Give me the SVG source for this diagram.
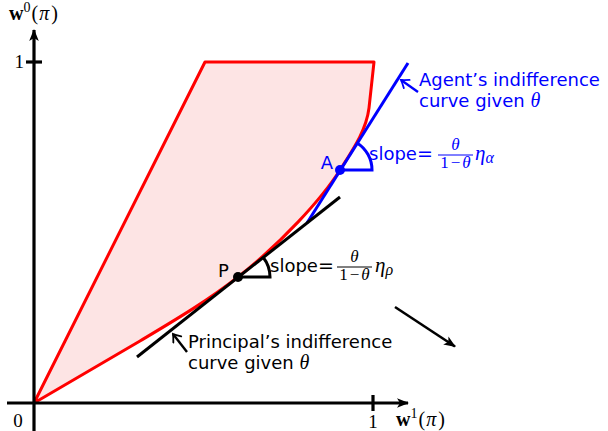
<svg xmlns="http://www.w3.org/2000/svg" width="608" height="431" viewBox="0 0 608 431">
<defs>
<style>
.ax{stroke:#000;stroke-width:3.2;fill:none}
.red{stroke:#ff0000;stroke-width:3;fill:#fde4e4;stroke-linejoin:round}
.bl{stroke:#0000ff;stroke-width:3;fill:none}
.bk{stroke:#000;stroke-width:3;fill:none}
.sans{font-family:"DejaVu Sans",Verdana,sans-serif;font-size:18px}
.math{font-family:"Liberation Serif","DejaVu Serif",serif}
.it{font-style:italic}
.eq{font-family:"DejaVu Sans",sans-serif;font-size:19px}
</style>
<marker id="stealth" markerUnits="userSpaceOnUse" markerWidth="16" markerHeight="12" viewBox="-12 -6 14 12" refX="0" refY="0" orient="auto">
<path d="M1,0 L-11,-4.8 L-8,0 L-11,4.8 Z" fill="#000"/>
</marker>
<marker id="openK" markerUnits="userSpaceOnUse" markerWidth="12" markerHeight="12" viewBox="-9 -6 11 12" refX="0" refY="0" orient="auto">
<path d="M-7,-5 Q-2.5,-1.5 0,0 Q-2.5,1.5 -7,5" fill="none" stroke="#000" stroke-width="1.8" stroke-linecap="round"/>
</marker>
<marker id="openB" markerUnits="userSpaceOnUse" markerWidth="12" markerHeight="12" viewBox="-9 -6 11 12" refX="0" refY="0" orient="auto">
<path d="M-7,-5 Q-2.5,-1.5 0,0 Q-2.5,1.5 -7,5" fill="none" stroke="#0000ff" stroke-width="1.8" stroke-linecap="round"/>
</marker>
</defs>

<g id="region">
<path class="red" d="M34,403 L140,341 C173.4,321 207.4,301.1 238,277 C281.2,243 321.3,199.6 340,170 C352.3,150.5 366.2,130.8 369,108 L374,62 L205,62 Z"/>
</g>

<g id="axes">
<line class="ax" x1="34" y1="431" x2="34" y2="30" marker-end="url(#stealth)"/>
<line class="ax" x1="7" y1="403" x2="408" y2="403" marker-end="url(#stealth)"/>
<line class="ax" x1="26" y1="62" x2="42" y2="62" stroke-width="2"/>
<line class="ax" x1="373" y1="395" x2="373" y2="411" stroke-width="2"/>
<text class="math" x="9" y="20" font-size="20"><tspan font-weight="bold">w</tspan><tspan font-size="14" dy="-8">0</tspan><tspan dy="8" dx="1">(</tspan><tspan class="it" dx="1">π</tspan><tspan dx="2">)</tspan></text>
<text class="math" x="396" y="426" font-size="20"><tspan font-weight="bold">w</tspan><tspan font-size="14" dy="-8">1</tspan><tspan dy="8" dx="1">(</tspan><tspan class="it" dx="1">π</tspan><tspan dx="2">)</tspan></text>
<text class="math" x="24" y="68" font-size="19" text-anchor="end">1</text>
<text class="math" x="18" y="427" font-size="19" text-anchor="middle">0</text>
<text class="math" x="373" y="428" font-size="19" text-anchor="middle">1</text>
</g>

<g id="connectors">
<line class="bl" x1="307" y1="223" x2="408" y2="63"/>
<line class="bk" x1="137" y1="357" x2="340" y2="197"/>
<path class="bl" d="M340,170 L372,170 A32,32 0 0 0 357.1,142.9"/>
<path class="bk" d="M238,277 L270,277 A32,32 0 0 0 263.1,257.2"/>
<line x1="418" y1="92" x2="401" y2="80" stroke="#0000ff" stroke-width="2.4" marker-end="url(#openB)"/>
<line x1="187" y1="352" x2="173" y2="334" stroke="#000" stroke-width="2.4" marker-end="url(#openK)"/>
<line x1="395" y1="307" x2="455" y2="346.5" stroke="#000" stroke-width="2.6" marker-end="url(#stealth)"/>
</g>

<g id="pointA">
<circle cx="340" cy="170" r="5" fill="#0000ff"/>
<text class="sans" x="333" y="169" text-anchor="end" fill="#0000ff">A</text>
<text class="sans" x="369" y="160" fill="#0000ff">slope<tspan class="eq">=</tspan></text>
<text class="math it" x="455.5" y="150" font-size="17" text-anchor="middle" fill="#0000ff">θ</text>
<line x1="438" y1="155" x2="473" y2="155" stroke="#0000ff" stroke-width="1"/>
<text class="math" x="455.5" y="168" font-size="17" text-anchor="middle" fill="#0000ff">1<tspan dx="2">−</tspan><tspan class="it" dx="2">θ</tspan></text>
<text class="math it" x="475" y="160" font-size="21" fill="#0000ff">η<tspan font-size="16" dy="3">α</tspan></text>
</g>

<g id="pointP">
<circle cx="238" cy="277" r="5" fill="#000"/>
<text class="sans" x="218" y="277" fill="#000">P</text>
<text class="sans" x="270" y="272" fill="#000">slope<tspan class="eq">=</tspan></text>
<text class="math it" x="354.5" y="262" font-size="17" text-anchor="middle" fill="#000">θ</text>
<line x1="337" y1="267" x2="372" y2="267" stroke="#000" stroke-width="1"/>
<text class="math" x="354.5" y="280" font-size="17" text-anchor="middle" fill="#000">1<tspan dx="2">−</tspan><tspan class="it" dx="2">θ</tspan></text>
<text class="math it" x="375" y="272" font-size="21" fill="#000">η<tspan font-size="16" dy="3">ρ</tspan></text>
</g>

<g id="agentLabel">
<text class="sans" x="419" y="85.5" fill="#0000ff">Agent’s indifference</text>
<text class="sans" x="419" y="106.5" fill="#0000ff">curve given <tspan class="math it" font-size="20">θ</tspan></text>
</g>

<g id="principalLabel">
<text class="sans" x="188" y="348" fill="#000">Principal’s indifference</text>
<text class="sans" x="188" y="368.5" fill="#000">curve given <tspan class="math it" font-size="20">θ</tspan></text>
</g>
</svg>
